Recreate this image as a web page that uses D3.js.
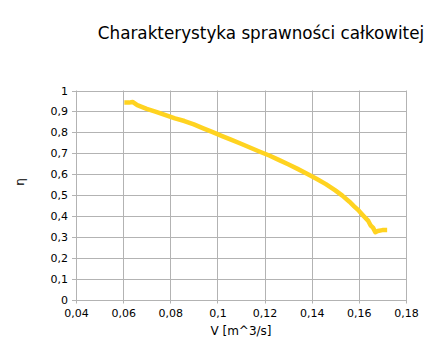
<!DOCTYPE html>
<html><head><meta charset="utf-8">
<script src="https://cdn.jsdelivr.net/npm/d3@7"></script>
<style>body{margin:0;background:#fff}svg{display:block}</style>
</head><body><svg id="c" width="430" height="354"></svg>
<script>
const flowV = [0.0605,0.0625,0.0640,0.066,0.070,0.074,0.078,0.082,0.086,0.090,0.094,0.098,0.102,0.106,0.110,0.114,0.118,0.122,0.126,0.130,0.134,0.138,0.142,0.146,0.150,0.153,0.156,0.158,0.160,0.162,0.164,0.165,0.166,0.167,0.168,0.170,0.172];
const efficiency = [0.942,0.942,0.945,0.930,0.912,0.898,0.882,0.867,0.854,0.838,0.819,0.801,0.782,0.764,0.745,0.726,0.707,0.689,0.668,0.647,0.625,0.602,0.578,0.552,0.522,0.497,0.468,0.446,0.425,0.400,0.376,0.354,0.344,0.322,0.328,0.332,0.332];
const xTicks = [0.04,0.06,0.08,0.1,0.12,0.14,0.16,0.18];
const yTicks = [0,0.1,0.2,0.3,0.4,0.5,0.6,0.7,0.8,0.9,1];
const title = "Charakterystyka sprawności całkowitej";
const xTitle = "V [m^3/s]";
const yTitle = "η";

const svg = d3.select("#c");
const L=76, R=406, T=90.5, B=299.5;
const x = d3.scaleLinear().domain([0.04,0.18]).range([L,R]);
const y = d3.scaleLinear().domain([0,1]).range([B,T]);
const fmt = d => String(d).replace(".", ",");
const font = "DejaVu Sans, sans-serif";

const g = svg.append("g");
g.selectAll(".vg").data(xTicks).join("line")
  .attr("x1",d=>Math.round(x(d))+0.5).attr("x2",d=>Math.round(x(d))+0.5)
  .attr("y1",T).attr("y2",B+4).attr("stroke","#b3b3b3");
g.selectAll(".hg").data(yTicks).join("line")
  .attr("y1",d=>Math.round(y(d))+0.5).attr("y2",d=>Math.round(y(d))+0.5)
  .attr("x1",L-4).attr("x2",R+0.5).attr("stroke","#b3b3b3");

const xAxis = svg.append("g").attr("transform",`translate(0,${B})`)
  .call(d3.axisBottom(x).tickValues(xTicks).tickFormat(fmt).tickSize(0).tickPadding(10));
const yAxis = svg.append("g").attr("transform",`translate(${L},0)`)
  .call(d3.axisLeft(y).tickValues(yTicks).tickFormat(fmt).tickSize(0).tickPadding(8));
[xAxis,yAxis].forEach(a=>{a.select(".domain").remove();
  a.selectAll("text").attr("font-family",font).attr("font-size",11).attr("fill","#000");});

svg.append("path").datum(flowV.map((v,i)=>[v,efficiency[i]]))
  .attr("d", d3.line().x(d=>x(d[0])).y(d=>y(d[1])))
  .attr("fill","none").attr("stroke","#ffd320").attr("stroke-width",4.5)
  .attr("stroke-linejoin","round");

svg.append("text").attr("x",261).attr("y",39).attr("text-anchor","middle")
  .attr("font-family",font).attr("font-size",16.8).text(title);
svg.append("text").attr("x",241).attr("y",335).attr("text-anchor","middle")
  .attr("font-family",font).attr("font-size",12).text(xTitle);
svg.append("text").attr("transform","translate(24,182) rotate(-90)").attr("text-anchor","middle")
  .attr("font-family",font).attr("font-size",12).text(yTitle);
</script></body></html>
